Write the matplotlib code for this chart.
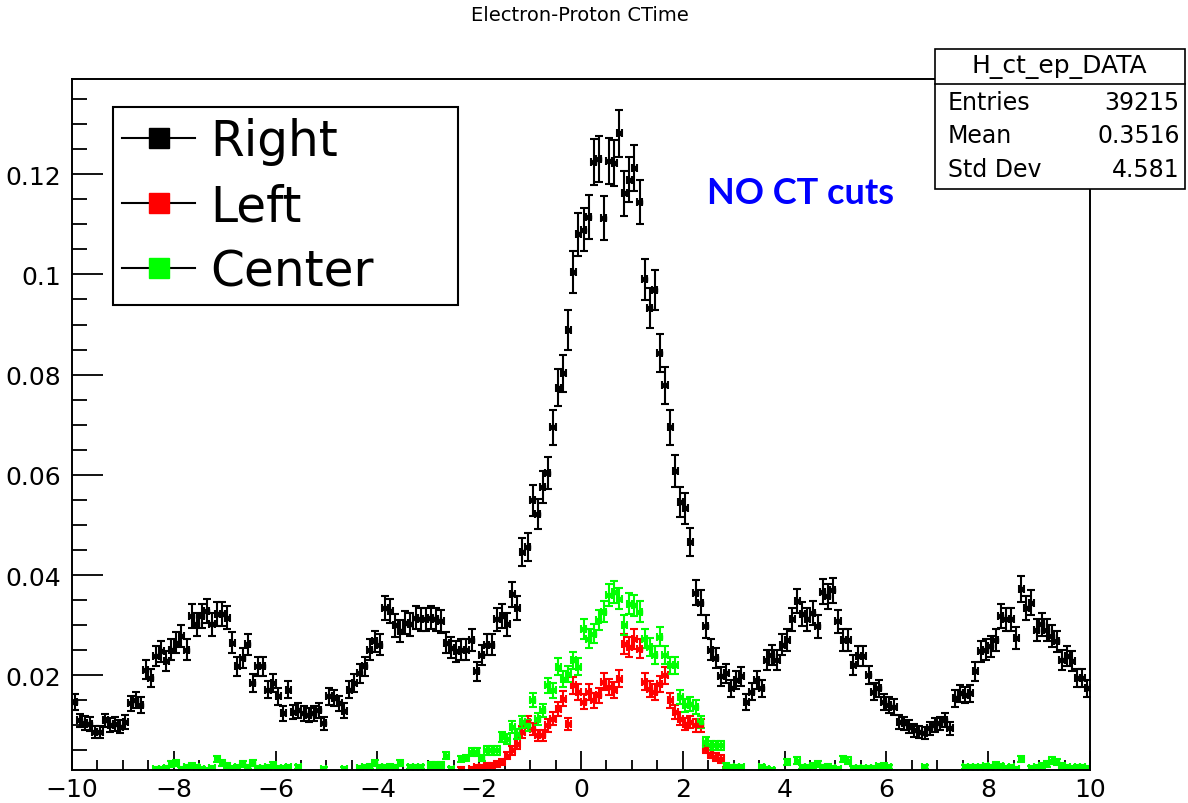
import numpy as np
import matplotlib.pyplot as plt
from matplotlib.lines import Line2D
from matplotlib.patches import Rectangle
from matplotlib.ticker import MultipleLocator, FuncFormatter

# -------- DATA --------
bin_edges = np.linspace(-10, 10, 201)
bin_centers = 0.5 * (bin_edges[:-1] + bin_edges[1:])

# Right arm, every bin from -10 to 10
right_vals = [
    0.0147, 0.0110, 0.0105, 0.0103, 0.0087, 0.0087, 0.0110, 0.0101, 0.0103, 0.0097,
    0.0107, 0.0144, 0.0151, 0.0141, 0.0211, 0.0195, 0.0238, 0.0248, 0.0228, 0.0251,
    0.0265, 0.0278, 0.0251, 0.0318, 0.0302, 0.0318, 0.0328, 0.0302, 0.0322, 0.0322,
    0.0315, 0.0265, 0.0218, 0.0235, 0.0262, 0.0184, 0.0218, 0.0218, 0.0171, 0.0184,
    0.0158, 0.0124, 0.0171, 0.0127, 0.0130, 0.0124, 0.0121, 0.0124, 0.0130, 0.0104,
    0.0158, 0.0155, 0.0144, 0.0129, 0.0171, 0.0185, 0.0204, 0.0218, 0.0251, 0.0268,
    0.0261, 0.0335, 0.0328, 0.0300, 0.0288, 0.0305, 0.0302, 0.0315, 0.0312, 0.0312,
    0.0315, 0.0312, 0.0308, 0.0265, 0.0255, 0.0248, 0.0251, 0.0251, 0.0271, 0.0208,
    0.0241, 0.0261, 0.0261, 0.0312, 0.0318, 0.0302, 0.0362, 0.0335, 0.0446, 0.0456,
    0.0549, 0.0521, 0.0576, 0.0603, 0.0695, 0.0774, 0.0803, 0.0889, 0.1005, 0.1080,
    0.1089, 0.1114, 0.1224, 0.1231, 0.1112, 0.1226, 0.1223, 0.1282, 0.1162, 0.1189,
    0.1213, 0.1144, 0.0990, 0.0933, 0.0969, 0.0844, 0.0779, 0.0695, 0.0608, 0.0546,
    0.0533, 0.0466, 0.0365, 0.0345, 0.0298, 0.0251, 0.0235, 0.0198, 0.0204, 0.0174,
    0.0191, 0.0198, 0.0147, 0.0167, 0.0191, 0.0174, 0.0231, 0.0241, 0.0231, 0.0261,
    0.0271, 0.0312, 0.0348, 0.0322, 0.0312, 0.0325, 0.0298, 0.0367, 0.0358, 0.0370,
    0.0308, 0.0271, 0.0271, 0.0221, 0.0238, 0.0238, 0.0201, 0.0167, 0.0174, 0.0147,
    0.0141, 0.0137, 0.0107, 0.0104, 0.0097, 0.0090, 0.0087, 0.0084, 0.0094, 0.0101,
    0.0104, 0.0111, 0.0094, 0.0154, 0.0164, 0.0161, 0.0164, 0.0208, 0.0248, 0.0251,
    0.0258, 0.0271, 0.0318, 0.0312, 0.0312, 0.0275, 0.0372, 0.0335, 0.0345, 0.0291,
    0.0302, 0.0291, 0.0278, 0.0268, 0.0231, 0.0238, 0.0228, 0.0194, 0.0194, 0.0174,
]

# Left arm, starts at bin 76 (x = -2.35); 0 = empty bin
left_first_bin = 76
left_vals = [
    0.0012, 0, 0.0013, 0.0017, 0.0017, 0.0019, 0.0020, 0.0023, 0.0027, 0.0040,
    0.0050, 0.0063, 0.0087, 0.0107, 0.0093, 0.0080, 0.0080, 0.0100, 0.0113, 0.0133,
    0.0153, 0.0103, 0.0180, 0.0167, 0.0147, 0.0167, 0.0150, 0.0160, 0.0187, 0.0177,
    0.0170, 0.0193, 0.0263, 0.0257, 0.0273, 0.0253, 0.0187, 0.0173, 0.0167, 0.0183,
    0.0200, 0.0150, 0.0127, 0.0113, 0.0103, 0.0107, 0.0100, 0.0100, 0.0053, 0.0043,
    0.0037, 0.0033, 0.0013,
]

# Center arm, starts at bin 16 (x = -8.35); 0 = empty bin
center_first_bin = 16
center_vals = [
    0.0013, 0.0013, 0.0015, 0.0023, 0.0025, 0.0013, 0.0017, 0.0020, 0.0017, 0.0013,
    0.0012, 0.0015, 0.0033, 0.0025, 0.0020, 0.0015, 0.0017, 0.0023, 0.0017, 0.0025,
    0.0015, 0.0015, 0.0017, 0.0021, 0.0015, 0.0015, 0.0017, 0, 0.0017, 0,
    0, 0, 0, 0.0013, 0, 0, 0, 0.0013, 0, 0,
    0.0015, 0.0017, 0.0018, 0.0025, 0.0017, 0.0017, 0.0018, 0.0017, 0.0025, 0,
    0.0017, 0.0017, 0.0017, 0, 0.0021, 0.0021, 0.0021, 0.0040, 0.0013, 0,
    0.0033, 0.0035, 0.0047, 0.0047, 0.0035, 0.0050, 0.0050, 0.0050, 0.0077, 0.0073,
    0.0097, 0.0083, 0.0107, 0.0100, 0.0150, 0.0113, 0.0130, 0.0180, 0.0170, 0.0217,
    0.0193, 0.0203, 0.0230, 0.0217, 0.0293, 0.0273, 0.0283, 0.0310, 0.0327, 0.0360,
    0.0367, 0.0353, 0.0300, 0.0343, 0.0340, 0.0327, 0.0273, 0.0257, 0.0240, 0.0277,
    0.0240, 0.0220, 0.0220, 0.0157, 0.0140, 0.0143, 0.0137, 0.0107, 0.0067, 0.0060,
    0.0060, 0.0060, 0.0020, 0.0017, 0.0017, 0.0017, 0, 0, 0, 0.0017,
    0.0013, 0.0012, 0, 0, 0.0027, 0, 0.0030, 0.0017, 0.0017, 0.0020,
    0.0023, 0.0017, 0.0018, 0.0015, 0.0013, 0.0033, 0.0030, 0.0015, 0.0015, 0.0015,
    0.0015, 0.0015, 0.0019, 0.0020, 0.0017, 0, 0, 0, 0, 0,
    0, 0.0017, 0, 0, 0, 0, 0, 0, 0, 0.0017,
    0.0017, 0.0017, 0.0017, 0.0019, 0.0017, 0.0021, 0.0019, 0.0015, 0.0017, 0.0013,
    0.0033, 0, 0.0015, 0.0017, 0.0020, 0.0023, 0.0030, 0.0027, 0.0020, 0.0017,
    0.0015, 0.0017, 0.0017, 0.0015,
]

# error bar scale (err = k * sqrt(value))
err_k = {"Right": 0.0131, "Left": 0.0122, "Center": 0.0114}
colors = {"Right": "#000000", "Left": "#ff0000", "Center": "#00ff00"}

stats_rows = [("Entries", "39215"), ("Mean", "0.3516"), ("Std Dev", "4.581")]


# -------- FIGURE --------
fig = plt.figure(figsize=(11.88, 8.04), dpi=100)
ax = fig.add_axes([0.0606, 0.041, 0.8569, 0.8595])


def draw(vals, first, name):
    vals = np.array(vals, dtype=float)
    x = bin_centers[first:first + len(vals)]
    m = vals > 0
    ax.errorbar(x[m], vals[m], yerr=err_k[name] * np.sqrt(vals[m]), xerr=0.05,
                fmt="s", ms=3.5, color=colors[name], mec=colors[name],
                elinewidth=1.5, capsize=3, capthick=1.5)


draw(right_vals, 0, "Right")
draw(left_vals, left_first_bin, "Left")
draw(center_vals, center_first_bin, "Center")

ax.set_xlim(-10, 10)
ax.set_ylim(0.0011, 0.139)
ax.xaxis.set_major_locator(MultipleLocator(2))
ax.xaxis.set_minor_locator(MultipleLocator(0.5))
ax.yaxis.set_major_locator(MultipleLocator(0.02))
ax.yaxis.set_minor_locator(MultipleLocator(0.005))
ax.yaxis.set_major_formatter(FuncFormatter(lambda v, _: f"{v:g}"))
ax.tick_params(which="both", direction="in", top=False, right=False,
               labelsize=18, width=1.3)
ax.tick_params(axis="x", which="major", length=14, pad=5)
ax.tick_params(axis="x", which="minor", length=7)
ax.tick_params(axis="y", which="major", length=22, pad=8)
ax.tick_params(axis="y", which="minor", length=11)
for s in ax.spines.values():
    s.set_linewidth(1.4)

# -------- LEGEND --------
handles = [Line2D([0], [0], color="black", lw=1.5, marker="s", ms=14,
                  mfc=colors[n], mec=colors[n]) for n in ["Right", "Left", "Center"]]
leg = ax.legend(handles, ["Right", "Left", "Center"], loc="upper left",
                bbox_to_anchor=(0.040, 0.682, 0.339, 0.277), mode="expand",
                borderaxespad=0, fontsize=35, handlelength=1.5, handletextpad=0.3,
                labelspacing=0.35, borderpad=0.2, fancybox=False,
                edgecolor="black", framealpha=1)
leg.get_frame().set_linewidth(1.5)

# -------- TITLE / TEXT --------
fig.text(0.488, 0.981, "Electron-Proton CTime", ha="center", va="center", fontsize=14)
fig.text(0.595, 0.759, "NO CT cuts", ha="left", va="center", fontsize=26,
         fontweight="bold", color="#0000ff", family="Lato")

# -------- STATS BOX --------
fig.patches.append(Rectangle((0.787, 0.764), 0.2105, 0.174, transform=fig.transFigure,
                             facecolor="white", edgecolor="black", lw=1.2, zorder=5))
fig.add_artist(Line2D([0.787, 0.9975], [0.894, 0.894], transform=fig.transFigure,
                      color="black", lw=1.2, zorder=6))
fig.text(0.892, 0.917, "H_ct_ep_DATA", ha="center", va="center", fontsize=18, zorder=7)
for i, (name, val) in enumerate(stats_rows):
    yy = 0.872 - i * 0.0415
    fig.text(0.798, yy, name, ha="left", va="center", fontsize=17, zorder=7)
    fig.text(0.993, yy, val, ha="right", va="center", fontsize=17, zorder=7)

fig.savefig("out.png", dpi=100)
